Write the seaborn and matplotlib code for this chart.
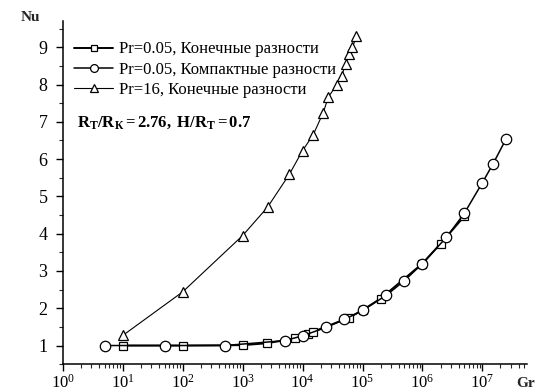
import numpy as np
import pandas as pd
import matplotlib
matplotlib.use("Agg")
import matplotlib.pyplot as plt
import seaborn as sns
from matplotlib.ticker import LogLocator, MultipleLocator, NullFormatter, FixedLocator

# ---- data ----
gr_fd005 = [10, 100, 1000, 2500, 7500, 1.25e4, 1.5e4, 6e4, 1e5, 2e5, 1e6, 2e6, 5e6]
nu_fd005 = [1.0, 1.0, 1.01, 1.06, 1.19, 1.32, 1.37, 1.75, 1.95, 2.26, 3.2, 3.73, 4.47]

gr_cd005 = [5, 50, 500, 5000, 1e4, 2.5e4, 5e4, 1e5, 2.5e5, 5e5, 1e6, 2.5e6, 5e6, 1e7, 1.5e7, 2.5e7]
nu_cd005 = [1.0, 1.0, 1.0, 1.13, 1.26, 1.49, 1.70, 1.94, 2.35, 2.74, 3.2, 3.9, 4.55, 5.37, 5.87, 6.55]

gr_fd16 = [10, 100, 1000, 2600, 6000, 1e4, 1.5e4, 2.2e4, 2.7e4, 3.7e4, 4.5e4, 5.2e4, 6e4, 6.8e4, 7.9e4]
nu_fd16 = [1.27, 2.44, 3.95, 4.71, 5.59, 6.23, 6.65, 7.24, 7.67, 7.99, 8.23, 8.55, 8.81, 9.0, 9.29]

labels = ["Pr=0.05, Конечные разности",
          "Pr=0.05, Компактные разности",
          "Pr=16, Конечные разности"]
annotation = r"$\mathbf{R_{Т}/R_{К}{=}2.76,\ H/R_{Т}{=}0.7}$"
xlabel = "Gr"
ylabel = "Nu"

sns.set_theme(style="ticks")
plt.rcParams["font.family"] = ["Liberation Serif", "DejaVu Serif"]
plt.rcParams["mathtext.fontset"] = "custom"
plt.rcParams["mathtext.rm"] = "Liberation Serif"
plt.rcParams["mathtext.bf"] = "Liberation Serif:bold"
plt.rcParams["mathtext.it"] = "Liberation Serif:italic"

fig = plt.figure(figsize=(5.37, 3.92), dpi=100)
ax = fig.add_axes([0.117, 0.071, 0.864, 0.875])

df1 = pd.DataFrame({"Gr": gr_fd005, "Nu": nu_fd005})
df2 = pd.DataFrame({"Gr": gr_cd005, "Nu": nu_cd005})
df3 = pd.DataFrame({"Gr": gr_fd16, "Nu": nu_fd16})

common = dict(color="black", markerfacecolor="white", markeredgecolor="black",
              markeredgewidth=0.9, ax=ax, estimator=None, sort=False)
sns.lineplot(data=df1, x="Gr", y="Nu", marker="s", markersize=6, linewidth=1.4,
             label=labels[0], **common)
sns.lineplot(data=df2, x="Gr", y="Nu", marker="o", markersize=7.5, linewidth=1.1,
             label=labels[1], **common)
sns.lineplot(data=df3, x="Gr", y="Nu", marker="^", markersize=7.5, linewidth=0.8,
             label=labels[2], **common)

ax.set_xscale("log")
ax.set_xlim(1, 5.5e7)
ax.set_ylim(0.5, 9.7)
ax.set_xlabel("")
ax.set_ylabel("")
sns.despine(ax=ax)
for s in ["left", "bottom"]:
    ax.spines[s].set_linewidth(1.1)
    ax.spines[s].set_color("black")

ax.xaxis.set_major_locator(FixedLocator([10.0**k for k in range(0, 8)]))
ax.xaxis.set_minor_locator(LogLocator(base=10, subs=np.arange(2, 10), numticks=20))
ax.xaxis.set_minor_formatter(NullFormatter())
ax.yaxis.set_major_locator(FixedLocator([1, 2, 3, 4, 5, 6, 7, 8, 9]))
ax.yaxis.set_minor_locator(MultipleLocator(0.5))
ax.tick_params(axis="both", which="major", direction="out", length=5, width=1,
               colors="black")
ax.tick_params(axis="y", which="major", pad=6, labelsize=13)
ax.tick_params(axis="x", which="major", pad=2, labelsize=12)
ax.tick_params(axis="both", which="minor", direction="out", length=3, width=0.8)

fig.text(0.038, 0.955, ylabel, fontsize=11, fontweight="bold", ha="left", va="center")
fig.text(0.962, 0.022, xlabel, fontsize=11, fontweight="bold", ha="left", va="center")

leg = ax.legend(loc="upper left", bbox_to_anchor=(0.0, 0.975), frameon=False,
                fontsize=12, handlelength=2.3, handletextpad=0.4,
                labelspacing=0.25, borderaxespad=0.3, markerscale=0.75)
for t in leg.get_texts():
    t.set_color("black")

ax.text(0.03, 0.705, annotation, transform=ax.transAxes, fontsize=12,
        ha="left", va="center", color="black")

fig.savefig("out.png", dpi=100, facecolor="white")
